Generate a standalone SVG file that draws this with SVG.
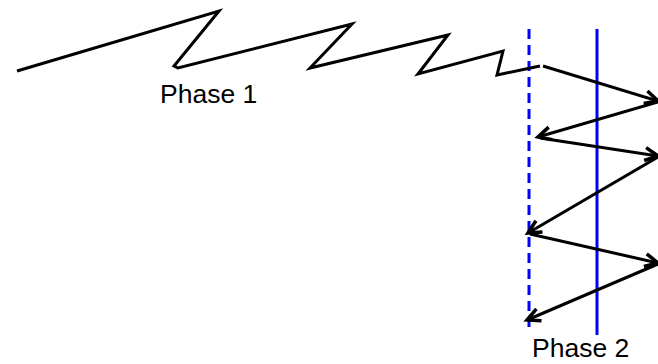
<svg xmlns="http://www.w3.org/2000/svg" width="658" height="364" viewBox="0 0 658 364">
<style>
.ln{fill:none;stroke:#000;stroke-width:3;stroke-linejoin:miter;stroke-linecap:butt}
.ar{fill:none;stroke:#000;stroke-width:3}
.lbl{font-family:"Liberation Sans",Arial,sans-serif;font-size:26.5px;fill:#000}
</style>
<defs>
<marker id="ah" viewBox="-16 -9 18 18" refX="0" refY="0" markerWidth="18" markerHeight="18" markerUnits="userSpaceOnUse" orient="auto" overflow="visible">
<path d="M-13,-6.5 L0,0 L-13,6.5" fill="none" stroke="#000" stroke-width="3.5" stroke-linejoin="miter"/>
</marker>
</defs>
<rect width="658" height="364" fill="#fff"/>
<g id="boundaries">
<line x1="529" y1="29" x2="529" y2="327" stroke="#0000ff" stroke-width="3" stroke-dasharray="10,6"/>
<line x1="597" y1="29" x2="597" y2="335" stroke="#0000ff" stroke-width="3"/>
</g>
<g id="connectors">
<polyline class="ln" points="17,71 219,11 174,66 178,68 352,24 310,68 448,35 418,74 503,51 497,75 540,66"/>
<line class="ar" x1="543" y1="66" x2="658" y2="101" marker-end="url(#ah)"/>
<line class="ar" x1="658" y1="102" x2="538" y2="137" marker-end="url(#ah)"/>
<line class="ar" x1="540" y1="138" x2="658" y2="156" marker-end="url(#ah)"/>
<line class="ar" x1="658" y1="157" x2="528" y2="233" marker-end="url(#ah)"/>
<line class="ar" x1="530" y1="234" x2="658" y2="263" marker-end="url(#ah)"/>
<line class="ar" x1="658" y1="264" x2="527" y2="320" marker-end="url(#ah)"/>
</g>
<g id="phase1"><text class="lbl" x="160" y="103">Phase 1</text></g>
<g id="phase2"><text class="lbl" x="532" y="357">Phase 2</text></g>
</svg>
